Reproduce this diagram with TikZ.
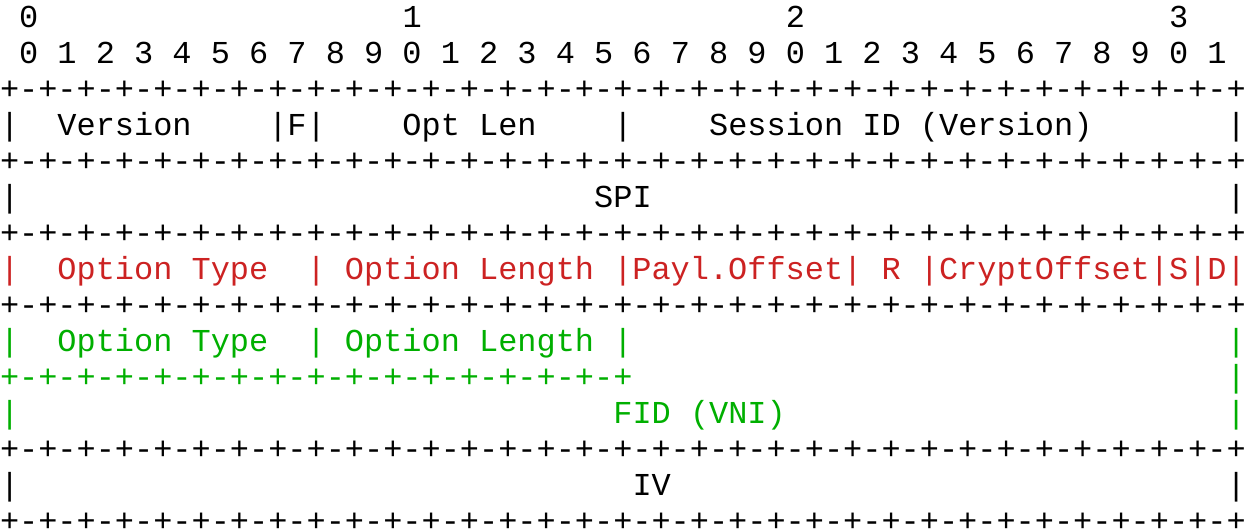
\documentclass[tikz,border=0pt]{standalone}
\usepackage{fontspec}
\setmonofont{Liberation Mono}
\definecolor{optred}{RGB}{204,34,34}
\definecolor{optgreen}{RGB}{0,175,0}
\newcommand\gap[1]{\hspace*{\dimexpr#1\fontcharwd\font`x\relax}}
\newcommand\eightpairs{+-+-+-+-+-+-+-+-}
\newcommand\pluses{\eightpairs\eightpairs\eightpairs\eightpairs+}
\newcommand\halfpluses{\eightpairs\eightpairs+}
\frenchspacing
\begin{document}
\begin{tikzpicture}[x=1pt,y=1pt,
  row/.style={anchor=base west, inner sep=0pt, outer sep=0pt,
    font=\fontsize{31.94}{36}\selectfont\ttfamily\frenchspacing},
  redrow/.style={row, text=optred},
  greenrow/.style={row, text=optgreen}]
\useasboundingbox (0,0) rectangle (1246,529);
\node[row] (l0) at (0,501.5) {\gap{1}0\gap{19}1\gap{19}2\gap{19}3};
\node[row] (l1) at (0,465.5) {\gap{1}0\gap{1}1\gap{1}2\gap{1}3\gap{1}4\gap{1}5\gap{1}6\gap{1}7\gap{1}8\gap{1}9\gap{1}0\gap{1}1\gap{1}2\gap{1}3\gap{1}4\gap{1}5\gap{1}6\gap{1}7\gap{1}8\gap{1}9\gap{1}0\gap{1}1\gap{1}2\gap{1}3\gap{1}4\gap{1}5\gap{1}6\gap{1}7\gap{1}8\gap{1}9\gap{1}0\gap{1}1};
\node[row] (l2) at (0,429.5) {\pluses};
\node[row] (l3) at (0,393.5) {|\gap{2}Version\gap{4}|F|\gap{4}Opt\gap{1}Len\gap{4}|\gap{4}Session\gap{1}ID\gap{1}(Version)\gap{7}|};
\node[row] (l4) at (0,357.5) {\pluses};
\node[row] (l5) at (0,321.5) {|\gap{30}SPI\gap{30}|};
\node[row] (l6) at (0,285.5) {\pluses};
\node[redrow] (l7) at (0,249.5) {|\gap{2}Option\gap{1}Type\gap{2}|\gap{1}Option\gap{1}Length\gap{1}|Payl.Offset|\gap{1}R\gap{1}|CryptOffset|S|D|};
\node[row] (l8) at (0,213.5) {\pluses};
\node[greenrow] (l9) at (0,177.5) {|\gap{2}Option\gap{1}Type\gap{2}|\gap{1}Option\gap{1}Length\gap{1}|\gap{31}|};
\node[greenrow] (l10) at (0,141.5) {\halfpluses\gap{31}|};
\node[greenrow] (l11) at (0,105.5) {|\gap{31}FID\gap{1}(VNI)\gap{23}|};
\node[row] (l12) at (0,69.5) {\pluses};
\node[row] (l13) at (0,33.5) {|\gap{32}IV\gap{29}|};
\node[row] (l14) at (0,-2.5) {\pluses};
\end{tikzpicture}
\end{document}
